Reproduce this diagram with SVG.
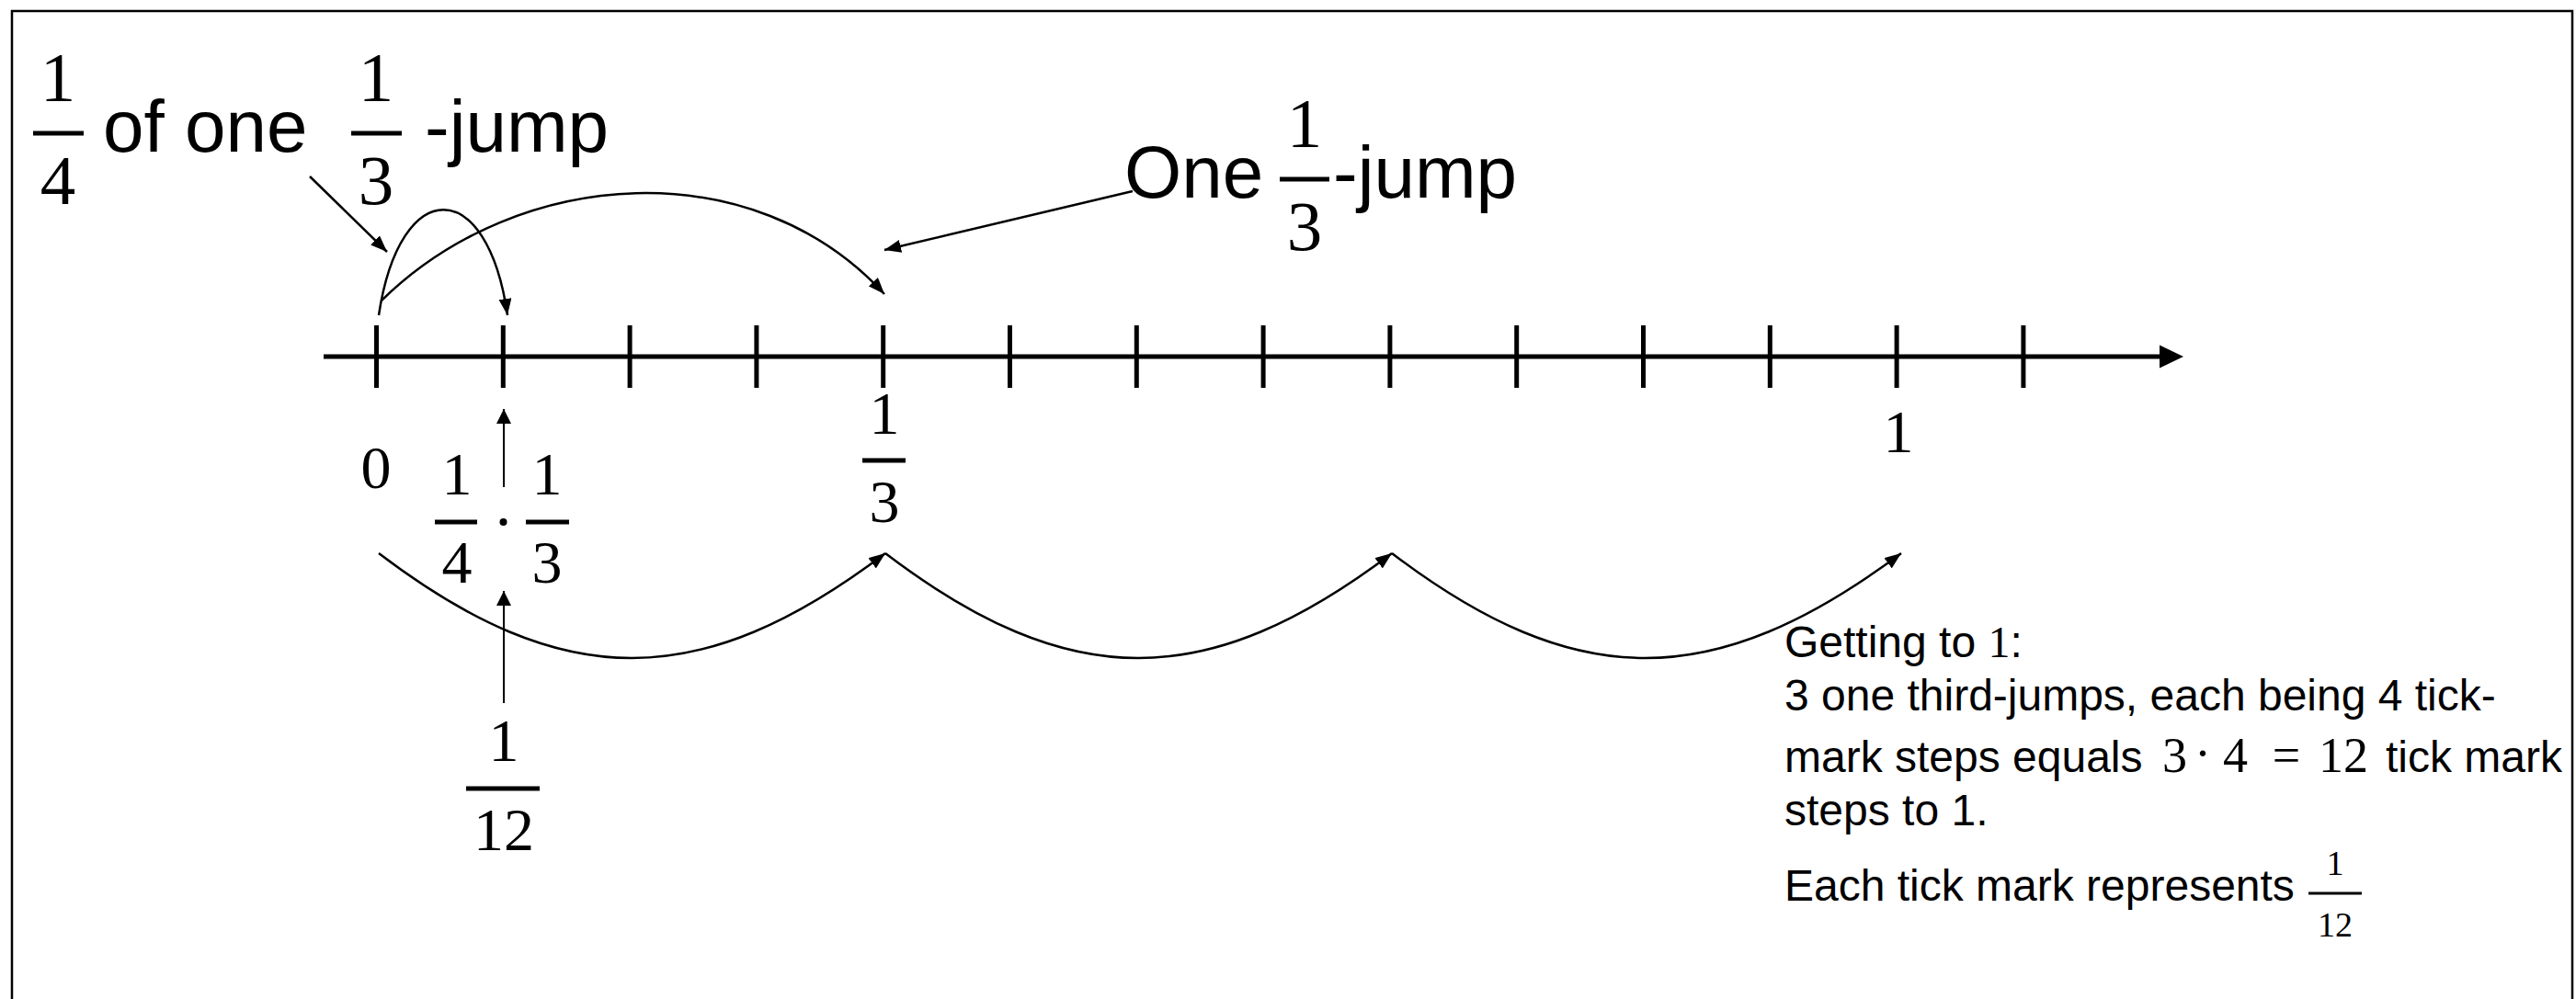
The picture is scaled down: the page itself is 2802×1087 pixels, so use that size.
<svg xmlns="http://www.w3.org/2000/svg" width="2802" height="1087" viewBox="0 0 2802 1087">
  <style>
    .sans { font-family: "Liberation Sans", Arial, sans-serif; fill: #000; }
    .serif { font-family: "Liberation Serif", "Times New Roman", serif; fill: #000; }
    .big { font-size: 80px; }
    .bigd { font-size: 77px; text-anchor: middle; }
    .mid { font-size: 66px; text-anchor: middle; }
    .body { font-size: 48px; }
    .bar { stroke: #000; stroke-width: 5; }
    .tick { stroke: #000; stroke-width: 5; }
    .conn { fill: none; stroke: #000; stroke-width: 2.5; }
    .thin { fill: none; stroke: #000; stroke-width: 2; }
  </style>
  <defs>
    <marker id="ah" markerUnits="userSpaceOnUse" markerWidth="18" markerHeight="14" refX="18" refY="7" orient="auto">
      <path d="M0,0 L18,7 L0,14 z" fill="#000"/>
    </marker>
    <marker id="ahs" markerUnits="userSpaceOnUse" markerWidth="16" markerHeight="16" refX="16" refY="8" orient="auto">
      <path d="M0,0 L16,8 L0,16 z" fill="#000"/>
    </marker>
  </defs>

  <rect x="13" y="12" width="2785" height="1100" fill="#fff" stroke="#000" stroke-width="2.5"/>

  <g id="label-quarter-of-third-jump">
    <text class="serif bigd" x="63" y="110">1</text>
    <line class="bar" x1="36" y1="145" x2="91" y2="145"/>
    <text class="serif bigd" x="63" y="222">4</text>
    <text class="sans big" x="112" y="165">of one</text>
    <text class="serif bigd" x="409" y="110">1</text>
    <line class="bar" x1="382" y1="145" x2="437" y2="145"/>
    <text class="serif bigd" x="409" y="222">3</text>
    <text class="sans big" x="462" y="165">-jump</text>
  </g>

  <g id="label-one-third-jump">
    <text class="sans big" x="1223" y="215">One</text>
    <text class="serif bigd" x="1419" y="160">1</text>
    <line class="bar" x1="1392" y1="195" x2="1446" y2="195"/>
    <text class="serif bigd" x="1419" y="272">3</text>
    <text class="sans big" x="1450" y="215">-jump</text>
  </g>

  <g id="number-line">
    <line x1="352" y1="388" x2="2352" y2="388" stroke="#000" stroke-width="5"/>
    <polygon points="2349,375.5 2375,388 2349,400.5" fill="#000"/>
    <g class="tick">
      <line x1="409.5" y1="354" x2="409.5" y2="422"/>
      <line x1="547.3" y1="354" x2="547.3" y2="422"/>
      <line x1="685.1" y1="354" x2="685.1" y2="422"/>
      <line x1="822.9" y1="354" x2="822.9" y2="422"/>
      <line x1="960.7" y1="354" x2="960.7" y2="422"/>
      <line x1="1098.5" y1="354" x2="1098.5" y2="422"/>
      <line x1="1236.3" y1="354" x2="1236.3" y2="422"/>
      <line x1="1374.1" y1="354" x2="1374.1" y2="422"/>
      <line x1="1511.9" y1="354" x2="1511.9" y2="422"/>
      <line x1="1649.7" y1="354" x2="1649.7" y2="422"/>
      <line x1="1787.5" y1="354" x2="1787.5" y2="422"/>
      <line x1="1925.3" y1="354" x2="1925.3" y2="422"/>
      <line x1="2063.1" y1="354" x2="2063.1" y2="422"/>
      <line x1="2200.9" y1="354" x2="2200.9" y2="422"/>
    </g>
  </g>

  <g id="label-zero">
    <text class="serif mid" x="409" y="531">0</text>
  </g>

  <g id="label-quarter-times-third">
    <text class="serif mid" x="497" y="538">1</text>
    <line class="bar" x1="473" y1="568" x2="519" y2="568"/>
    <text class="serif mid" x="497" y="634">4</text>
    <circle cx="547.5" cy="568" r="4" fill="#000"/>
    <text class="serif mid" x="595" y="538">1</text>
    <line class="bar" x1="572" y1="568" x2="619" y2="568"/>
    <text class="serif mid" x="595" y="634">3</text>
  </g>

  <g id="label-one-third">
    <text class="serif mid" x="962" y="472">1</text>
    <line class="bar" x1="938" y1="501" x2="985" y2="501"/>
    <text class="serif mid" x="962" y="568">3</text>
  </g>

  <g id="label-one">
    <text class="serif mid" x="2065" y="492">1</text>
  </g>

  <g id="label-one-twelfth">
    <text class="serif mid" x="548" y="828">1</text>
    <line class="bar" x1="507" y1="858" x2="587" y2="858"/>
    <text class="serif mid" x="548" y="925">12</text>
  </g>

  <g id="explanation">
    <text class="sans body" x="1941" y="715">Getting to <tspan class="serif">1</tspan>:</text>
    <text class="sans body" x="1941" y="773">3 one third-jumps, each being 4 tick-</text>
    <text class="sans body" x="1941" y="840">mark steps equals</text>
    <text class="serif" font-size="54" x="2352" y="840">3</text>
    <text class="serif" font-size="54" x="2396" y="838" text-anchor="middle">·</text>
    <text class="serif" font-size="54" x="2418" y="840">4</text>
    <text class="serif" font-size="54" x="2487" y="840" text-anchor="middle">=</text>
    <text class="serif" font-size="54" x="2522" y="840">12</text>
    <text class="sans body" x="2595" y="840">tick mark</text>
    <text class="sans body" x="1941" y="898">steps to 1.</text>
    <text class="sans body" x="1941" y="980">Each tick mark represents</text>
    <text class="serif" font-size="38" x="2540" y="952" text-anchor="middle">1</text>
    <line x1="2511" y1="972" x2="2569" y2="972" stroke="#000" stroke-width="3"/>
    <text class="serif" font-size="38" x="2540" y="1019" text-anchor="middle">12</text>
  </g>

  <g id="connectors">
    <line class="conn" x1="337" y1="192" x2="421" y2="274" marker-end="url(#ah)"/>
    <line class="conn" x1="1232" y1="208" x2="962" y2="272" marker-end="url(#ah)"/>
    <path class="conn" d="M412,343 C435,190 530,190 552,343" marker-end="url(#ah)"/>
    <path class="conn" d="M415,327 C565,180 820,165 962,320" marker-end="url(#ah)"/>
    <line class="thin" x1="548" y1="530" x2="548" y2="445" marker-end="url(#ahs)"/>
    <line class="thin" x1="548" y1="765" x2="548" y2="643" marker-end="url(#ahs)"/>
    <path class="conn" d="M412,602 C612,754 762,754 963,602" marker-end="url(#ah)"/>
    <path class="conn" d="M963,602 C1163,754 1313,754 1514,602" marker-end="url(#ah)"/>
    <path class="conn" d="M1514,602 C1714,754 1864,754 2068,602" marker-end="url(#ah)"/>
  </g>
</svg>
